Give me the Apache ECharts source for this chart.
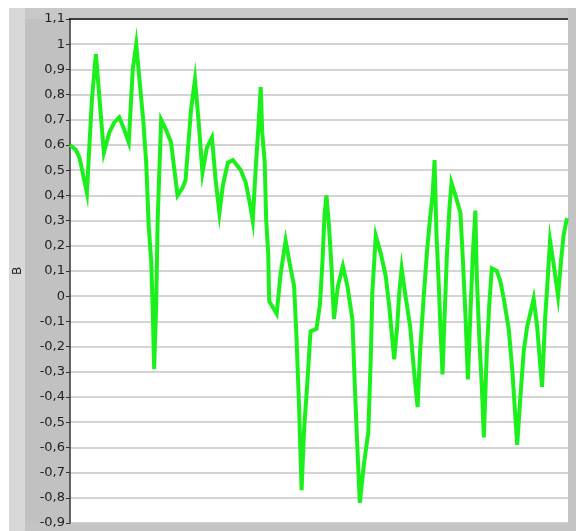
<!DOCTYPE html>
<html><head><meta charset="utf-8">
<script src="https://cdn.jsdelivr.net/npm/echarts@6/dist/echarts.min.js"></script>
<style>html,body{margin:0;padding:0;background:#fff}#c{width:576px;height:531px}</style>
</head><body><div id="c"></div>
<script>
// sample time (0..100 across the plot) and signal values
const times = [0,1.2,1.9,3.4,3.9,4.4,5.2,5.9,6.8,7.9,8.9,9.9,10.9,11.8,12.6,13.3,13.9,14.7,15.3,15.8,16.3,16.6,16.9,17.3,17.6,18.3,19.3,20.3,20.9,21.6,22.6,23.2,24.3,25.1,25.8,26.6,27.5,28.5,29.2,30.0,30.7,31.7,32.7,34.3,35.3,36.0,36.7,37.3,37.8,38.3,38.6,39.1,39.4,39.8,40.0,41.5,42.3,43.3,44.3,45.0,45.5,46.0,46.5,47.0,47.6,48.3,49.5,50.2,50.7,51.1,51.5,52.0,52.5,53.0,53.8,54.8,55.7,56.7,57.2,57.7,58.2,59.0,59.9,60.4,60.7,61.4,62.4,63.4,64.1,65.1,65.7,66.1,66.6,67.3,68.3,69.0,69.8,70.3,71.0,71.7,72.3,72.8,73.2,73.6,74.0,74.4,74.8,75.2,75.7,76.2,76.6,77.4,78.4,78.9,79.4,79.9,80.4,80.9,81.4,81.7,82.2,82.7,83.1,83.7,84.2,84.7,85.7,86.4,87.1,88.1,88.8,89.8,90.4,91.1,91.8,92.4,93.1,93.8,94.2,94.8,95.4,95.9,96.4,97.1,98.0,98.6,99.1,99.8];
const values = [0.60,0.58,0.55,0.41,0.60,0.78,0.96,0.79,0.57,0.65,0.69,0.71,0.66,0.61,0.90,1.00,0.87,0.70,0.53,0.28,0.14,-0.04,-0.29,-0.04,0.30,0.70,0.66,0.61,0.51,0.40,0.43,0.46,0.74,0.86,0.70,0.49,0.59,0.63,0.47,0.33,0.44,0.53,0.54,0.50,0.45,0.38,0.30,0.51,0.66,0.83,0.65,0.53,0.30,0.17,-0.02,-0.07,0.09,0.22,0.11,0.04,-0.17,-0.44,-0.77,-0.53,-0.36,-0.14,-0.13,-0.03,0.14,0.32,0.40,0.28,0.12,-0.09,0.04,0.12,0.04,-0.09,-0.36,-0.60,-0.82,-0.67,-0.54,-0.24,0.01,0.24,0.17,0.08,-0.04,-0.25,-0.12,0.01,0.11,0.01,-0.12,-0.28,-0.44,-0.22,-0.01,0.18,0.31,0.40,0.54,0.24,0.07,-0.13,-0.31,-0.09,0.17,0.35,0.45,0.40,0.33,0.14,-0.07,-0.33,-0.07,0.17,0.34,0.07,-0.17,-0.36,-0.56,-0.22,-0.03,0.11,0.10,0.06,-0.01,-0.13,-0.29,-0.59,-0.41,-0.22,-0.12,-0.07,-0.01,-0.12,-0.22,-0.36,-0.09,0.06,0.22,0.13,0.00,0.14,0.24,0.31];
const yMin = -0.9, yMax = 1.1, yStep = 0.1;
const yName = 'B';

const chart = echarts.init(document.getElementById('c'), null, {renderer: 'canvas'});
const pts = times.map((t, i) => [t, values[i]]);
chart.setOption({
  backgroundColor: '#ffffff',
  animation: false,
  graphic: [
    {type: 'rect', z: -10, shape: {x: 9, y: 8, width: 567, height: 523}, style: {fill: '#d8d8d8'}},
    {type: 'rect', z: -9, shape: {x: 25, y: 8, width: 551, height: 11}, style: {fill: '#c8c8c8'}},
    {type: 'rect', z: -9, shape: {x: 25, y: 19, width: 44, height: 512}, style: {fill: '#c1c1c1'}},
    {type: 'rect', z: -9, shape: {x: 568, y: 8, width: 8, height: 523}, style: {fill: '#c4c4c4'}},
    {type: 'rect', z: -9, shape: {x: 25, y: 523, width: 551, height: 8}, style: {fill: '#c4c4c4'}},
    {type: 'rect', z: -8, shape: {x: 70, y: 19, width: 498, height: 504}, style: {fill: '#ffffff'}},
    {type: 'line', z: 50, shape: {x1: 69, y1: 19, x2: 568, y2: 19}, style: {stroke: '#111', lineWidth: 1.5}}
  ],
  grid: {left: 70, top: 19, right: 8, bottom: 8, containLabel: false},
  xAxis: {type: 'value', min: 0, max: 100, show: false},
  yAxis: {
    type: 'value', min: yMin, max: yMax, interval: yStep,
    name: yName, nameLocation: 'middle', nameGap: 46, nameRotate: 90,
    nameTextStyle: {fontFamily: 'DejaVu Sans', fontSize: 12, color: '#222'},
    axisLine: {show: true, lineStyle: {color: '#333', width: 1.5}},
    axisTick: {show: true, length: 4, lineStyle: {color: '#333', width: 1}},
    axisLabel: {
      margin: 5, fontFamily: 'DejaVu Sans', fontSize: 13, color: '#222',
      formatter: v => { const r = Math.round(v * 10) / 10; return String(r).replace('.', ','); }
    },
    splitLine: {show: true, lineStyle: {color: '#c6c6c6', width: 1.5}}
  },
  series: [{
    type: 'line', data: pts, showSymbol: false, symbol: 'none',
    lineStyle: {color: '#1cf01c', width: 4, join: 'miter'},
    clip: true
  }]
});
</script></body></html>
